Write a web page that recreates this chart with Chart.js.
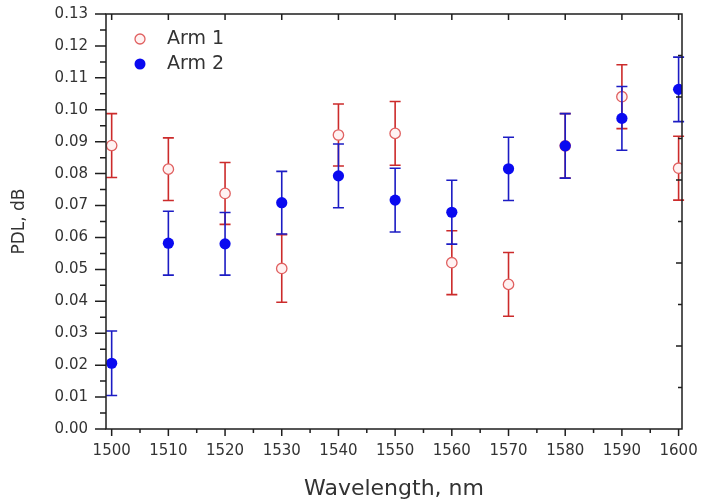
<!DOCTYPE html>
<html>
<head>
<meta charset="utf-8">
<script src="https://cdn.jsdelivr.net/npm/chart.js@4.4.1/dist/chart.umd.min.js"></script>
<style>
  html, body { margin: 0; padding: 0; background: #fff; }
  #wrap { width: 701px; height: 502px; }
</style>
</head>
<body>
<div id="wrap"><canvas id="pdl"></canvas></div>
<script>
// Longueurs d'onde mesurées (nm)
const wavelengths = [1500, 1510, 1520, 1530, 1540, 1550, 1560, 1570, 1580, 1590, 1600];

// Bras 1 : PDL (dB) et barres d'erreur
const arm1 = [0.0888, 0.0814, 0.0738, 0.0503, 0.0921, 0.0926, 0.0521, 0.0453, 0.0887, 0.1041, 0.0817];
const arm1Err = [0.0100, 0.0098, 0.0097, 0.0106, 0.0097, 0.0100, 0.0100, 0.0100, 0.0101, 0.0100, 0.0100];

// Bras 2 : PDL (dB) et barres d'erreur
const arm2 = [0.0206, 0.0582, 0.0580, 0.0709, 0.0793, 0.0717, 0.0679, 0.0815, 0.0887, 0.0973, 0.1064];
const arm2Err = [0.0101, 0.0100, 0.0098, 0.0098, 0.0100, 0.0100, 0.0100, 0.0099, 0.0101, 0.0100, 0.0101];

// Graduations
const xTicks = [1500, 1510, 1520, 1530, 1540, 1550, 1560, 1570, 1580, 1590, 1600];
const yTicks = [0.00, 0.01, 0.02, 0.03, 0.04, 0.05, 0.06, 0.07, 0.08, 0.09, 0.10, 0.11, 0.12, 0.13];

const seriesNames = ['Arm 1', 'Arm 2'];

const FONT = '"DejaVu Sans", Verdana, sans-serif';
const INK = '#333333';

const colors = {
    redBar: '#cc2b2b',
    redPoint: '#e06060',
    redFill: '#fff2f2',
    blueBar: '#1c1cc4',
    bluePoint: '#0a0af0'
};

function toPoints(values, errors) {
    return wavelengths.map(function (w, i) {
        return { x: w, y: values[i], err: errors[i] };
    });
}

// Barres d'erreur dessinées juste avant les points de chaque série
const errorBars = {
    id: 'errorBars',
    beforeDatasetDraw: function (chart, args) {
        const ds = chart.data.datasets[args.index];
        const xs = chart.scales.x;
        const ys = chart.scales.y;
        const ctx = chart.ctx;
        ctx.save();
        ctx.strokeStyle = ds.barColor;
        ctx.lineWidth = 1.6;
        ds.data.forEach(function (p) {
            const px = xs.getPixelForValue(p.x);
            const top = ys.getPixelForValue(p.y + p.err);
            const bot = ys.getPixelForValue(p.y - p.err);
            ctx.beginPath();
            ctx.moveTo(px, top);
            ctx.lineTo(px, bot);
            ctx.moveTo(px - 5.5, top);
            ctx.lineTo(px + 5.5, top);
            ctx.moveTo(px - 5.5, bot);
            ctx.lineTo(px + 5.5, bot);
            ctx.stroke();
        });
        ctx.restore();
    }
};

// Cadre, graduations majeures/mineures et légende dans le graphique
const frame = {
    id: 'frame',
    afterDraw: function (chart) {
        const ctx = chart.ctx;
        const a = chart.chartArea;
        const xs = chart.scales.x;
        const ys = chart.scales.y;
        ctx.save();
        ctx.strokeStyle = '#1e1e1e';
        ctx.lineWidth = 1.5;
        ctx.strokeRect(a.left, a.top, a.right - a.left, a.bottom - a.top);

        ctx.beginPath();
        // axe gauche
        yTicks.forEach(function (v, i) {
            const py = ys.getPixelForValue(v);
            ctx.moveTo(a.left - 11, py);
            ctx.lineTo(a.left, py);
            if (i < yTicks.length - 1) {
                const pm = ys.getPixelForValue((v + yTicks[i + 1]) / 2);
                ctx.moveTo(a.left - 6, pm);
                ctx.lineTo(a.left, pm);
            }
        });
        // axes bas et haut
        xTicks.forEach(function (v, i) {
            const px = xs.getPixelForValue(v);
            ctx.moveTo(px, a.bottom);
            ctx.lineTo(px, a.bottom + 7);
            ctx.moveTo(px, a.top);
            ctx.lineTo(px, a.top + 6);
            if (i < xTicks.length - 1) {
                const pm = xs.getPixelForValue((v + xTicks[i + 1]) / 2);
                ctx.moveTo(pm, a.bottom);
                ctx.lineTo(pm, a.bottom + 4);
            }
        });
        // axe droit : 10 divisions égales
        for (let k = 1; k < 10; k++) {
            const py = a.top + (a.bottom - a.top) * k / 10;
            ctx.moveTo(a.right, py);
            ctx.lineTo(a.right - (k % 2 === 0 ? 6 : 4), py);
        }
        ctx.stroke();

        // légende
        ctx.lineWidth = 1.3;
        ctx.strokeStyle = colors.redPoint;
        ctx.fillStyle = colors.redFill;
        ctx.beginPath();
        ctx.arc(140, 39, 5, 0, Math.PI * 2);
        ctx.fill();
        ctx.stroke();
        ctx.fillStyle = colors.bluePoint;
        ctx.beginPath();
        ctx.arc(140, 64, 5.5, 0, Math.PI * 2);
        ctx.fill();
        ctx.fillStyle = INK;
        ctx.font = '19px ' + FONT;
        ctx.textBaseline = 'middle';
        ctx.textAlign = 'left';
        ctx.fillText(seriesNames[0], 167, 39);
        ctx.fillText(seriesNames[1], 167, 64);
        ctx.restore();
    }
};

// Supprime la marge automatique ajoutée pour les étiquettes extrêmes
function noEdgePadding(scale) {
    scale.paddingTop = 0;
    scale.paddingBottom = 0;
    scale.paddingLeft = 0;
    scale.paddingRight = 0;
}

const chartConfig = {
    type: 'scatter',
    data: {
        datasets: [{
            label: seriesNames[0],
            data: toPoints(arm1, arm1Err),
            barColor: colors.redBar,
            pointRadius: 5.2,
            pointBorderWidth: 1.3,
            pointBorderColor: colors.redPoint,
            pointBackgroundColor: colors.redFill,
            order: 1
        }, {
            label: seriesNames[1],
            data: toPoints(arm2, arm2Err),
            barColor: colors.blueBar,
            pointRadius: 5.6,
            pointBorderWidth: 0,
            pointBackgroundColor: colors.bluePoint,
            order: 0
        }]
    },
    options: {
        responsive: true,
        maintainAspectRatio: false,
        animation: false,
        layout: { padding: { top: 14, right: 19, left: 0, bottom: 0 } },
        plugins: {
            legend: { display: false },
            tooltip: { enabled: false }
        },
        scales: {
            x: {
                type: 'linear',
                min: 1499,
                max: 1600.6,
                afterBuildTicks: function (scale) {
                    scale.ticks = xTicks.map(function (v) { return { value: v }; });
                },
                afterFit: function (scale) {
                    scale.height = 73;
                    noEdgePadding(scale);
                },
                grid: { display: false, drawTicks: false },
                border: { display: false },
                ticks: {
                    padding: 13,
                    color: INK,
                    font: { family: FONT, size: 15 },
                    maxRotation: 0,
                    autoSkip: false,
                    callback: function (v) { return String(v); }
                },
                title: {
                    display: true,
                    text: 'Wavelength, nm',
                    color: INK,
                    font: { family: FONT, size: 22 },
                    padding: { top: 0, bottom: 0 }
                }
            },
            y: {
                type: 'linear',
                min: 0,
                max: 0.13,
                afterBuildTicks: function (scale) {
                    scale.ticks = yTicks.map(function (v) { return { value: v }; });
                },
                afterFit: function (scale) {
                    scale.width = 106;
                    noEdgePadding(scale);
                },
                grid: { display: false, drawTicks: false },
                border: { display: false },
                ticks: {
                    padding: 18,
                    color: INK,
                    font: { family: FONT, size: 15 },
                    autoSkip: false,
                    callback: function (v) { return Number(v).toFixed(2); }
                },
                title: {
                    display: true,
                    text: 'PDL, dB',
                    color: INK,
                    font: { family: FONT, size: 17 },
                    padding: { top: 9, bottom: 0 }
                }
            }
        }
    },
    plugins: [errorBars, frame]
};

new Chart(document.getElementById('pdl').getContext('2d'), chartConfig);
</script>
</body>
</html>
